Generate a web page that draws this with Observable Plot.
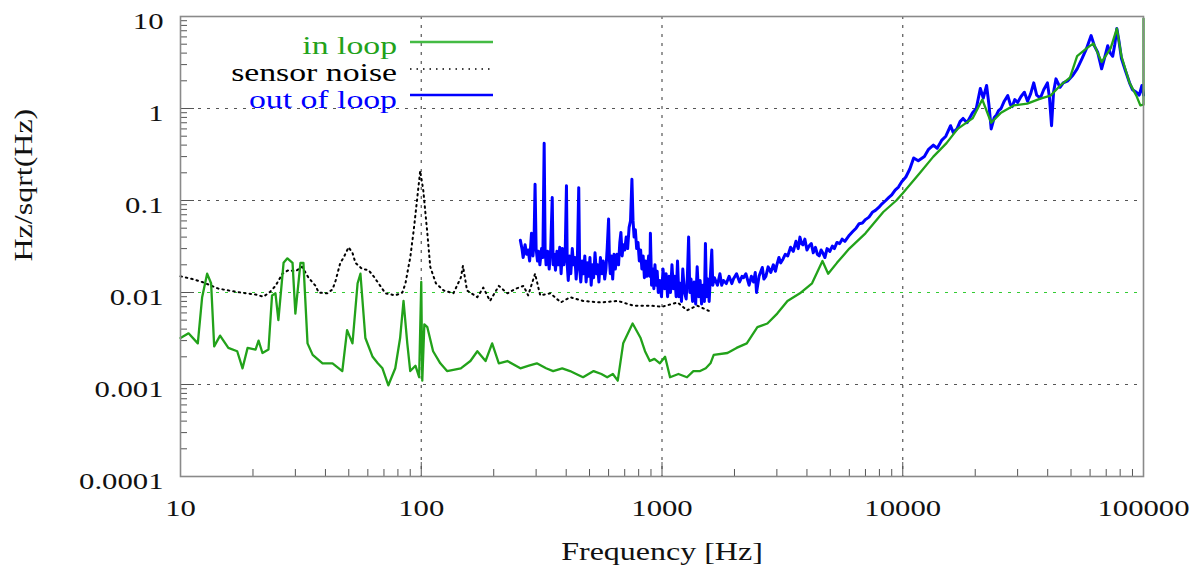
<!DOCTYPE html>
<html>
<head>
<meta charset="utf-8">
<script src="https://cdn.jsdelivr.net/npm/d3@7"></script>
<script src="https://cdn.jsdelivr.net/npm/@observablehq/plot@0.6"></script>
<style>
  html, body { margin: 0; padding: 0; background: #fff; }
  #chart svg { display: block; }
</style>
</head>
<body>
<div id="chart"></div>
<script>
// ---- data (frequency in Hz, value in Hz/sqrt(Hz)) ----
const inLoop = [
  [10,0.0032],[10.8,0.0036],[11.8,0.0028],[12.3,0.0089],[12.9,0.016],[13.4,0.0126],[13.8,0.0026],
  [14.6,0.0034],[15.8,0.0025],[17.2,0.0023],[18.1,0.0015],[19,0.0025],[20.5,0.0024],[21.1,0.003],
  [21.9,0.0022],[23.2,0.0024],[24,0.0093],[24.8,0.0098],[25.5,0.005],[26.8,0.021],[27.8,0.0235],
  [29.2,0.021],[30,0.0059],[31.5,0.021],[32.4,0.021],[33.7,0.0028],[35.4,0.0021],[38.9,0.0017],
  [42.8,0.0017],[47,0.0014],[49.2,0.0039],[51.8,0.0028],[54.4,0.0126],[55.9,0.016],[58.6,0.0032],
  [62.8,0.002],[66,0.0017],[69,0.0015],[73,0.00098],[78,0.0015],[81.7,0.0032],[84.4,0.0081],[87.5,0.0028],
  [90,0.0014],[94.6,0.0016],[98,0.0012],[100,0.013],[101,0.0011],[103,0.0045],[106,0.0042],
  [112,0.0023],[120,0.0017],[128,0.0014],[146,0.0015],[160,0.0018],[171,0.0023],[185,0.0018],[197,0.0028],
  [210,0.0017],[228,0.0018],[258,0.0015],[280,0.0016],[302,0.0017],[330,0.0015],[353,0.0014],[385,0.0015],
  [415,0.0014],[440,0.0013],[470,0.0012],[520,0.0014],[560,0.0013],[592,0.0012],[625,0.0013],[655,0.0011],
  [690,0.0028],[755,0.0046],[815,0.0032],[850,0.0023],[890,0.0018],[930,0.0019],[980,0.0017],[1030,0.002],
  [1080,0.0012],[1170,0.0013],[1270,0.0012],[1350,0.0014],[1440,0.0014],[1520,0.0015],[1590,0.0017],[1640,0.0021],
  [1870,0.0022],[2040,0.0025],[2250,0.0028],[2490,0.0042],[2740,0.0046],[3010,0.0059],[3320,0.0081],
  [3740,0.0098],[4200,0.0126],[4640,0.022],[4900,0.016],[5330,0.021],[6000,0.03],[7000,0.044],
  [8300,0.075],[9400,0.1],[10000,0.12],[11800,0.2],[13400,0.3],[15200,0.42],[16900,0.6],
  [19500,0.78],[21400,1.25],[23300,0.7],[25600,0.9],[28900,1.08],[32900,1.13],[37300,1.28],
  [41100,1.38],[45100,1.78],[49500,2.17],[53000,3.7],[58000,4.5],[62000,5.1],[67000,3.2],
  [73000,4.5],[77500,7.4],[81000,3.7],[87500,1.9],[93400,1.38],[97000,1.08],[100000,1.1],[100000,9.5]
];
const sensorNoise = [
  [10,0.015],[11.2,0.014],[12.3,0.013],[14.4,0.011],[16.9,0.0102],[20.5,0.0095],[22.1,0.009],
  [23.6,0.0102],[24.8,0.0118],[26.5,0.016],[28.1,0.0175],[30,0.017],[32,0.019],[34,0.0145],
  [36.4,0.0118],[37.5,0.01],[40.7,0.0098],[42.8,0.0108],[44.1,0.0135],[46.1,0.021],[47.6,0.024],
  [49.9,0.031],[51.8,0.027],[53.3,0.021],[56.9,0.018],[60.4,0.0175],[63.4,0.015],[66.4,0.0126],
  [71,0.0098],[78,0.0093],[83.5,0.01],[86,0.0126],[88.5,0.019],[90,0.024],[93,0.047],[96,0.1],
  [99,0.21],[102,0.128],[106,0.044],[109,0.019],[115,0.0126],[124,0.0105],[136,0.0098],
  [146,0.0145],[149,0.0195],[155,0.0105],[171,0.0089],[181,0.0113],[193,0.0081],[210,0.0118],
  [228,0.0098],[247,0.011],[266,0.0118],[278,0.0093],[297,0.016],[312,0.0093],[344,0.0098],
  [380,0.0078],[415,0.0089],[470,0.0081],[555,0.0078],[655,0.0081],[760,0.0072],[890,0.0072],
  [1000,0.007],[1160,0.0078],[1270,0.0064],[1400,0.0072],[1590,0.0062]
];
const outOfLoop = [
  [258,0.037],[262,0.03],[265,0.024],[270,0.033],[274,0.026],[278,0.029],[282,0.022],[287,0.044],
  [291,0.025],[294,0.034],[297,0.15],[300,0.03],[304,0.022],[307,0.028],[311,0.02],[316,0.03],
  [320,0.024],[324,0.42],[327,0.03],[330,0.02],[335,0.028],[340,0.018],[345,0.03],[350,0.108],
  [353,0.02],[357,0.026],[361,0.0175],[366,0.028],[371,0.02],[376,0.031],[381,0.016],[386,0.03],
  [391,0.02],[396,0.025],[401,0.145],[404,0.02],[408,0.0135],[413,0.025],[418,0.016],[424,0.03],
  [429,0.02],[435,0.024],[440,0.014],[445,0.022],[451,0.138],[455,0.018],[460,0.013],[466,0.022],
  [472,0.016],[478,0.025],[484,0.013],[490,0.021],[496,0.015],[502,0.024],[508,0.012],[514,0.02],
  [520,0.0145],[527,0.027],[534,0.016],[540,0.02],[547,0.013],[555,0.024],[563,0.016],[570,0.022],
  [578,0.014],[585,0.018],[592,0.03],[600,0.063],[605,0.022],[610,0.016],[617,0.025],[624,0.014],
  [632,0.026],[640,0.018],[650,0.026],[660,0.02],[668,0.035],[675,0.045],[683,0.025],[690,0.033],
  [700,0.029],[710,0.04],[720,0.03],[730,0.051],[740,0.06],[750,0.17],[758,0.06],[766,0.04],
  [775,0.048],[785,0.03],[795,0.035],[805,0.022],[815,0.029],[825,0.018],[835,0.025],[845,0.0145],
  [855,0.022],[865,0.015],[880,0.025],[890,0.015],[895,0.044],[905,0.012],[915,0.018],[925,0.011],
  [935,0.02],[945,0.012],[955,0.017],[965,0.01],[980,0.0135],[995,0.009],[1010,0.018],[1025,0.011],
  [1040,0.016],[1055,0.009],[1070,0.015],[1085,0.01],[1100,0.02],[1115,0.011],[1130,0.015],[1145,0.009],
  [1160,0.022],[1175,0.009],[1190,0.0126],[1205,0.008],[1220,0.018],[1240,0.01],[1260,0.0085],[1275,0.015],
  [1290,0.04],[1305,0.01],[1320,0.014],[1340,0.008],[1360,0.013],[1380,0.0075],[1400,0.019],[1420,0.009],
  [1440,0.0135],[1460,0.0075],[1480,0.012],[1500,0.008],[1515,0.034],[1530,0.009],[1550,0.014],[1570,0.008],
  [1590,0.016],[1610,0.029],[1625,0.012],[1650,0.0145],[1700,0.012],[1740,0.016],[1770,0.012],[1800,0.0135],
  [1850,0.0125],[1900,0.015],[1950,0.0125],[1980,0.014],[2040,0.016],[2100,0.013],[2150,0.015],[2180,0.0145],
  [2230,0.016],[2300,0.012],[2350,0.015],[2400,0.013],[2440,0.0165],[2470,0.01],[2530,0.015],[2610,0.0187],
  [2650,0.014],[2700,0.015],[2760,0.019],[2830,0.0165],[2900,0.02],[2960,0.017],[3000,0.02],[3060,0.024],
  [3110,0.021],[3180,0.023],[3250,0.026],[3330,0.025],[3420,0.031],[3510,0.028],[3600,0.036],[3680,0.03],
  [3740,0.04],[3800,0.034],[3850,0.033],[3920,0.038],[4000,0.029],[4080,0.032],[4170,0.034],[4250,0.027],
  [4340,0.031],[4420,0.026],[4500,0.025],[4580,0.029],[4670,0.0265],[4750,0.024],[4850,0.03],[4980,0.028],
  [5100,0.032],[5200,0.03],[5330,0.035],[5470,0.034],[5600,0.038],[5750,0.036],[6000,0.042],[6200,0.046],
  [6400,0.05],[6590,0.056],[6800,0.057],[7000,0.062],[7240,0.066],[7500,0.075],[7700,0.078],[7950,0.084],
  [8200,0.092],[8500,0.1],[8760,0.108],[9000,0.115],[9300,0.13],[9600,0.14],[9900,0.16],[10300,0.18],
  [10700,0.22],[11100,0.29],[11600,0.27],[12300,0.3],[12800,0.36],[13400,0.4],[13900,0.37],[14500,0.45],
  [15100,0.5],[15800,0.65],[16200,0.55],[16800,0.6],[17300,0.72],[17800,0.78],[18500,0.7],[19500,0.9],
  [20200,1.0],[21000,1.65],[21600,1.3],[22300,1.78],[22800,1.1],[23300,0.6],[24000,0.8],[24500,0.85],
  [25000,0.95],[25600,1.0],[26400,1.2],[27300,1.38],[28000,1.1],[28500,1.05],[29200,1.25],[30000,1.16],
  [31000,1.35],[32000,1.5],[33000,1.2],[34000,1.45],[35000,1.9],[36000,1.4],[37300,1.3],[38500,1.6],
  [39900,1.9],[40700,1.3],[41500,0.65],[42300,1.5],[43300,2.1],[45000,1.7],[46400,1.9],[48500,2.0],
  [50900,2.3],[53000,2.7],[55600,3.5],[58000,4.5],[60600,6.2],[62500,4.8],[64500,4.1],[66000,3.2],
  [67000,2.7],[69000,3.6],[71000,4.8],[72800,4.0],[74500,3.7],[76000,5.0],[77500,7.4],[79000,5.5],
  [81000,3.5],[84000,2.6],[87500,1.9],[90000,1.6],[93400,1.5],[96000,1.4],[98500,1.78],[100000,1.4]
];

const xTicks = [10, 100, 1000, 10000, 100000];
const xTickLabels = ["10", "100", "1000", "10000", "100000"];
const yTicks = [0.0001, 0.001, 0.01, 0.1, 1, 10];
const yTickLabels = ["0.0001", "0.001", "0.01", "0.1", "1", "10"];
const seriesNames = ["in loop", "sensor noise", "out of loop"];
const seriesColors = ["#22a21a", "#000000", "#0000ff"];
const xLabel = "Frequency [Hz]";
const yLabel = "Hz/sqrt(Hz)";

// minor ticks 2..9 in each decade
const xMinor = xTicks.slice(0, -1).flatMap(d => d3.range(2, 10).map(k => k * d));
const yMinor = yTicks.slice(0, -1).flatMap(d => d3.range(2, 10).map(k => k * d));

const FONT = "'Liberation Serif', serif";
const FS = 24;          // tick label font size
const FS_TITLE = 25;    // axis title font size
const FS_LEGEND = 25;   // legend font size
const STRETCH = 1.28;   // the reference typeface is wider than Times
const STRETCH_LEGEND = 1.35;
const gridStyle = {stroke: "#555", strokeWidth: 1.2, strokeDasharray: "3,6"};

const chart = Plot.plot({
  width: 1200,
  height: 565,
  marginLeft: 180,
  marginRight: 57,
  marginTop: 16,
  marginBottom: 89,
  x: {type: "log", domain: [10, 100000], axis: null},
  y: {type: "log", domain: [0.0001, 10], axis: null},
  marks: [
    // grid
    Plot.ruleX(xTicks.slice(1, -1), gridStyle),
    Plot.ruleY([0.001, 0.1, 1], gridStyle),
    Plot.ruleY([0.01], {...gridStyle, stroke: "#33cc33"}),
    // ticks (inward)
    Plot.axisX(xMinor, {anchor: "bottom", tickSize: -7, fill: "none", stroke: "#555", label: null}),
    Plot.axisX(xTicks, {anchor: "bottom", tickSize: -14, fill: "none", stroke: "#555", label: null}),
    Plot.axisY(yMinor, {anchor: "left", tickSize: -7, fill: "none", stroke: "#555", label: null}),
    Plot.axisY(yTicks, {anchor: "left", tickSize: -14, fill: "none", stroke: "#555", label: null}),
    // tick labels
    Plot.axisX(xTicks, {anchor: "bottom", tickSize: 0, tickPadding: 22, fontSize: FS, fill: "#111",
      tickFormat: d => xTickLabels[xTicks.indexOf(d)], label: null}),
    Plot.axisY(yTicks, {anchor: "left", tickSize: 0, tickPadding: 17, dy: 5, fontSize: FS, fill: "#111",
      tickFormat: d => yTickLabels[yTicks.indexOf(d)], label: null}),
    // data
    Plot.line(sensorNoise, {x: d => d[0], y: d => d[1], stroke: seriesColors[1], strokeWidth: 2,
      strokeDasharray: "1.5,4"}),
    Plot.line(outOfLoop, {x: d => d[0], y: d => d[1], stroke: seriesColors[2], strokeWidth: 3}),
    Plot.line(inLoop, {x: d => d[0], y: d => d[1], stroke: seriesColors[0], strokeWidth: 2.3}),
    // frame
    Plot.frame({stroke: "#8a8a8a", strokeWidth: 1.6}),
    // axis titles
    Plot.text([xLabel], {frameAnchor: "bottom", dy: 75, fontSize: FS_TITLE, fill: "#111", lineAnchor: "middle"}),
    Plot.text([yLabel], {frameAnchor: "left", dx: -157, dy: 15, rotate: -90, fontSize: FS_TITLE, fill: "#111"})
  ]
});
document.getElementById("chart").appendChild(chart);

const svg = d3.select(chart);

// serif typeface on every text of the chart, widened to match the reference glyphs
svg.attr("font-family", FONT).style("font-family", FONT);
svg.selectAll("g, text").attr("font-family", FONT).style("font-family", FONT);
svg.selectAll("text").each(function() {
  const t = this.getAttribute("transform") || "";
  this.setAttribute("transform", (t + ` scale(${STRETCH},1)`).trim());
});

// legend (inside the plot area, upper left)
const legendBase = [54, 81, 108];
const legendLine = [42, 69, 95];
const lg = svg.append("g").attr("font-size", FS_LEGEND).attr("font-family", FONT).style("font-family", FONT);
seriesNames.forEach((n, i) => {
  lg.append("text")
    .attr("transform", `translate(397,${legendBase[i]}) scale(${STRETCH_LEGEND},1)`)
    .attr("text-anchor", "end")
    .attr("fill", seriesColors[i])
    .text(n);
  lg.append("line")
    .attr("x1", 410).attr("x2", 493).attr("y1", legendLine[i]).attr("y2", legendLine[i])
    .attr("stroke", i === 0 ? "#44bb44" : seriesColors[i])
    .attr("stroke-width", i === 1 ? 1.6 : 2.4)
    .attr("stroke-dasharray", i === 1 ? "1.5,5" : null);
});
</script>
</body>
</html>
